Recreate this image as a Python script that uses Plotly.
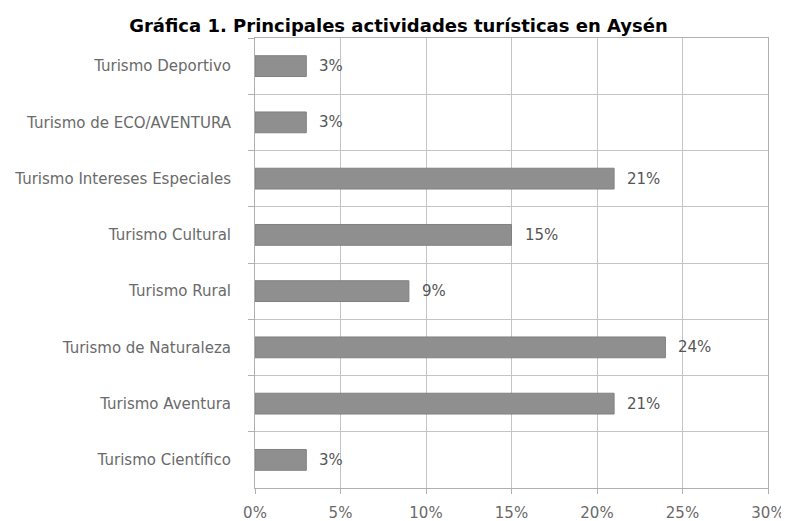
import plotly.graph_objects as go

categories = [
    "Turismo Deportivo",
    "Turismo de ECO/AVENTURA",
    "Turismo Intereses Especiales",
    "Turismo Cultural",
    "Turismo Rural",
    "Turismo de Naturaleza",
    "Turismo Aventura",
    "Turismo Científico",
]
values = [3, 3, 21, 15, 9, 24, 21, 3]
value_labels = ["3%", "3%", "21%", "15%", "9%", "24%", "21%", "3%"]
x_ticks = [0, 5, 10, 15, 20, 25, 30]
x_tick_labels = ["0%", "5%", "10%", "15%", "20%", "25%", "30%"]

label_font = dict(family="DejaVu Sans", size=15, color="#6a6a6a")

fig = go.Figure()
fig.add_trace(go.Bar(
    x=values, y=categories, orientation="h",
    marker=dict(color="#8f8f8f", line=dict(color="#808080", width=1)),
    width=0.37, hoverinfo="skip",
))

for v, c, t in zip(values, categories, value_labels):
    fig.add_annotation(x=v, y=c, text=t, showarrow=False, xanchor="left",
                       xshift=11, font=dict(family="DejaVu Sans", size=15, color="#555555"))

W, H = 781, 513  # page body has an 8px margin
fig.update_layout(
    width=W, height=H,
    margin=dict(l=247, r=21, t=30, b=33),
    paper_bgcolor="white", plot_bgcolor="white",
    showlegend=False,
    title=dict(text="<b>Gráfica 1. Principales actividades turísticas en Aysén</b>",
               font=dict(family="DejaVu Sans", size=18, color="black"),
               x=390.5/W, xanchor="center", y=1-18/H, yanchor="middle"),
    xaxis=dict(range=[0, 30], tickvals=x_ticks, ticktext=x_tick_labels,
               automargin=False,
               showgrid=True, gridcolor="#c4c4c4", gridwidth=1,
               showline=True, linecolor="#b0b0b0", linewidth=1, mirror=True,
               ticks="outside", ticklen=5, tickcolor="#b0b0b0",
               tickfont=label_font, ticklabelstandoff=6, zeroline=False),
    yaxis=dict(categoryorder="array", categoryarray=categories,
               autorange="reversed", tickson="boundaries", automargin=False,
               showgrid=True, gridcolor="#c4c4c4", gridwidth=1,
               showline=True, linecolor="#b0b0b0", linewidth=1, mirror=True,
               ticks="outside", ticklen=6, tickcolor="#b0b0b0",
               tickfont=label_font, ticklabelstandoff=20),
)

fig.write_html("out.html")
